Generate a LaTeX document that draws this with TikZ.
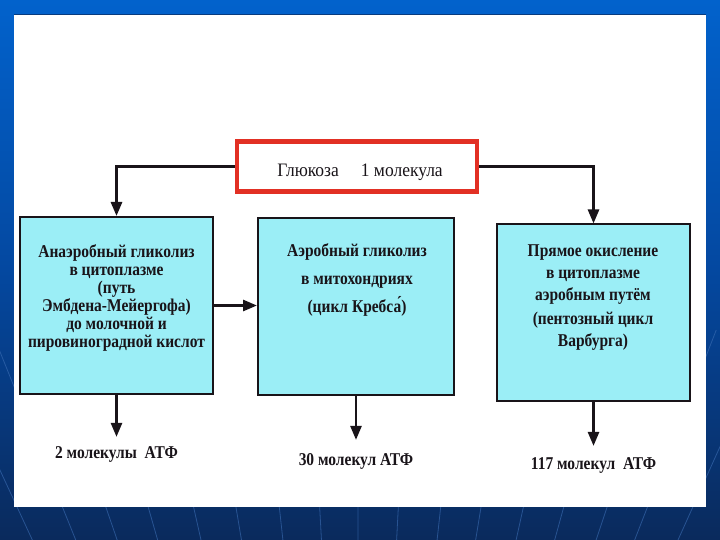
\documentclass[tikz,border=0pt]{standalone}
\usepackage{fontspec}
\setmainfont{Liberation Serif}
\newfontfamily\cond[FakeStretch=0.86]{Liberation Serif}
\newfontfamily\condg[FakeStretch=0.92]{Liberation Serif}
\usetikzlibrary{arrows.meta}
\definecolor{cyanbox}{RGB}{155,238,246}
\definecolor{redb}{RGB}{226,48,36}
\definecolor{bgtop}{RGB}{2,98,204}
\definecolor{bgmid}{RGB}{4,72,160}
\definecolor{bgbot}{RGB}{10,42,92}
\definecolor{fanline}{RGB}{60,110,180}
\definecolor{ink}{RGB}{25,20,25}
\tikzset{
  box/.style={draw=ink, line width=2pt, fill=cyanbox, inner sep=0pt},
  boxtext/.style={align=center, text=ink, font=\cond\bfseries\fontsize{18}{18}\selectfont, inner sep=0pt},
  restext/.style={text=ink, font=\cond\bfseries\fontsize{18}{18}\selectfont, inner sep=2pt},
  arr/.style={draw=ink, line width=2.6pt, -{Triangle[length=14pt,width=11pt]}},
}
\begin{document}
\begin{tikzpicture}[x=1pt,y=-1pt]
\useasboundingbox (0,0) rectangle (720,540);
% slide background
\shade[top color=bgtop, bottom color=bgbot, middle color=bgmid] (0,0) rectangle (720,540);
\begin{scope}
\clip (0,0) rectangle (720,540);
\foreach \x in {-25,20,65,108,150,195,237,280,320,358,398,440,480,522,562,605,645,690,735}{
  \pgfmathsetmacro{\xa}{360+(\x-360)*1.25}
  \pgfmathsetmacro{\xb}{360+(\x-360)*0.95}
  \draw[fanline, line width=0.8pt, opacity=0.6] (\xa,330) -- (\xb,550);
}
\end{scope}
% white panel
\fill[white] (14,14) rectangle (706,507);
\draw[bgbot!70!bgtop, line width=1pt] (14,14.5) -- (706,14.5);

% glucose box
\node[draw=redb, line width=4.5pt, fill=white, minimum width=240pt, minimum height=50pt, inner sep=0pt] (g) at (357,166.5) {};
\node[text=ink, font=\condg\fontsize{19}{18}\selectfont, inner sep=0pt] (gt) at (360,172) {Глюкоза\hspace{22pt}1 молекула};

% process boxes
\node[box, minimum width=193pt, minimum height=177pt] (b1) at (116.5,305.5) {};
\node[box, minimum width=196pt, minimum height=177pt] (b2) at (356,306.5) {};
\node[box, minimum width=193pt, minimum height=176pt] (b3) at (593.5,312.5) {};

\node[boxtext] (t1) at (116.5,298) {Анаэробный гликолиз\\в цитоплазме\\(путь\\Эмбдена-Мейергофа)\\до молочной и\\пировиноградной кислот};
\node[boxtext, font=\cond\bfseries\fontsize{18}{28}\selectfont] (t2) at (357,280) {Аэробный гликолиз\\в митохондриях\\(цикл Кребса́)};
\node[boxtext, font=\cond\bfseries\fontsize{18}{22}\selectfont] (t3) at (593,298) {Прямое окисление\\в цитоплазме\\аэробным путём\\[2pt](пентозный цикл\\Варбурга)};

% results
\node[restext] (r1) at (116.5,454) {2 молекулы\ \ АТФ};
\node[restext] (r2) at (356,461) {30 молекул АТФ};
\node[restext] (r3) at (593.5,465) {117 молекул\ \ АТФ};

% connectors
\draw[arr] (g.west) -| (b1.north);
\draw[arr] (g.east) -| (b3.north);
\draw[arr] (b1.east) -- (b1.east -| b2.west);
\draw[arr, shorten >=7pt] (b1.south) -- (r1.north);
\draw[arr, shorten >=11pt] (b2.south) -- (r2.north);
\draw[arr, shorten >=9pt] (b3.south) -- (r3.north);
\end{tikzpicture}
\end{document}
